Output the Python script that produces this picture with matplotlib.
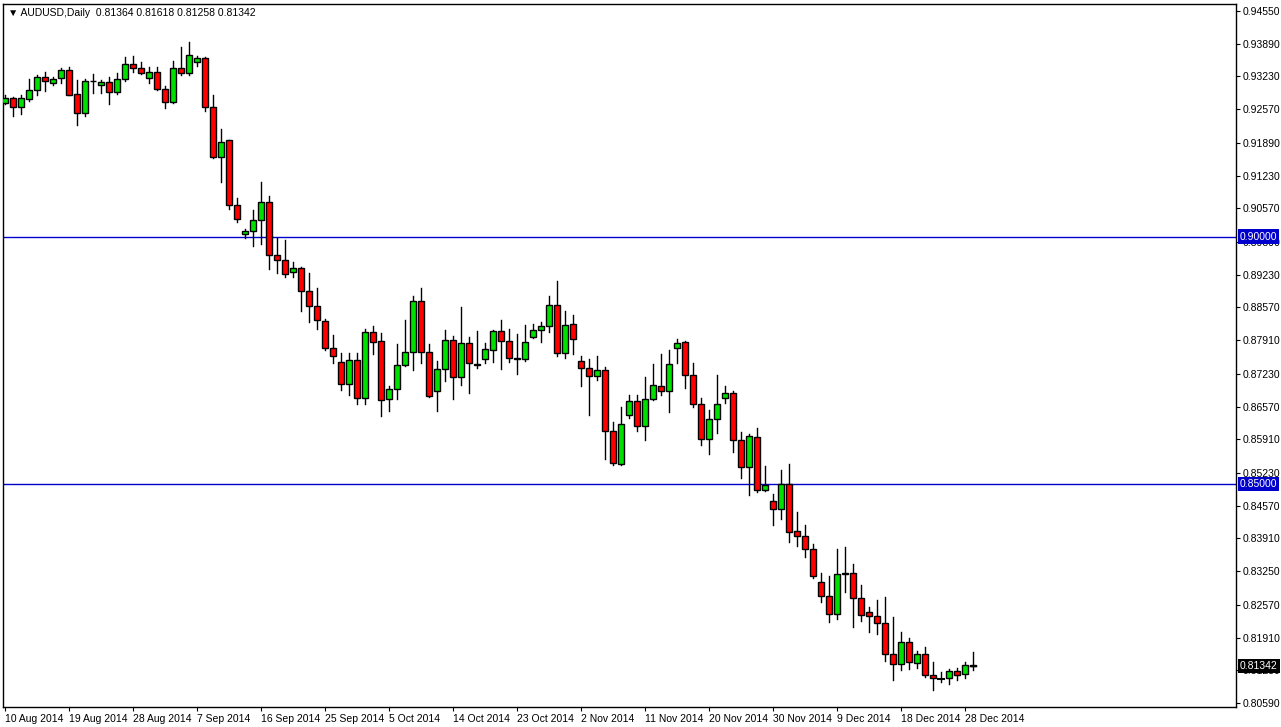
import matplotlib
matplotlib.use("Agg")
import matplotlib.pyplot as plt
from matplotlib.patches import Rectangle

plt.rcParams["font.family"] = ["Liberation Sans", "DejaVu Sans"]

# AUDUSD daily candles, 10 Aug 2014 - 29 Dec 2014
opens = [0.9270, 0.9280, 0.9261, 0.9278, 0.9296, 0.9322, 0.9310, 0.9320, 0.9336, 0.9288,
         0.9249, 0.9314, 0.9306, 0.9312, 0.9292, 0.9318, 0.9348, 0.9340, 0.9320, 0.9332,
         0.9298, 0.9271, 0.9340, 0.9330, 0.9352, 0.9360, 0.9261, 0.9161, 0.9195, 0.9064,
         0.9006, 0.9012, 0.9033, 0.9070, 0.8963, 0.8953, 0.8929, 0.8937, 0.8891, 0.8860,
         0.8830, 0.8775, 0.8747, 0.8703, 0.8751, 0.8674, 0.8808, 0.8789, 0.8672, 0.8692,
         0.8741, 0.8767, 0.8870, 0.8767, 0.8688, 0.8733, 0.8792, 0.8716, 0.8786, 0.8741,
         0.8753, 0.8771, 0.8810, 0.8790, 0.8753, 0.8753, 0.8798, 0.8812, 0.8820, 0.8862,
         0.8765, 0.8824, 0.8749, 0.8735, 0.8719, 0.8731, 0.8607, 0.8541, 0.8640, 0.8668,
         0.8618, 0.8672, 0.8699, 0.8688, 0.8775, 0.8788, 0.8721, 0.8662, 0.8591, 0.8632,
         0.8674, 0.8684, 0.8589, 0.8535, 0.8595, 0.8488, 0.8466, 0.8450, 0.8500, 0.8406,
         0.8396, 0.8370, 0.8303, 0.8275, 0.8239, 0.8321, 0.8321, 0.8271, 0.8243, 0.8235,
         0.8221, 0.8158, 0.8138, 0.8182, 0.8140, 0.8158, 0.8116, 0.8108, 0.8110, 0.8124,
         0.8118, 0.81364]
highs = [0.9286, 0.9282, 0.9286, 0.9318, 0.9326, 0.9332, 0.9322, 0.9340, 0.9342, 0.9316,
         0.9318, 0.9328, 0.9316, 0.9322, 0.9330, 0.9363, 0.9364, 0.9352, 0.9342, 0.9342,
         0.9304, 0.9354, 0.9383, 0.9393, 0.9364, 0.9362, 0.9286, 0.9217, 0.9195, 0.9078,
         0.9016, 0.9054, 0.9110, 0.9082, 0.8997, 0.8993, 0.8949, 0.8939, 0.8927, 0.8896,
         0.8834, 0.8802, 0.8765, 0.8765, 0.8765, 0.8814, 0.8820, 0.8805, 0.8698, 0.8783,
         0.8832, 0.8880, 0.8896, 0.8783, 0.8749, 0.8812, 0.8800, 0.8858, 0.8798, 0.8810,
         0.8786, 0.8812, 0.8832, 0.8814, 0.8804, 0.8822, 0.8824, 0.8828, 0.8880, 0.8910,
         0.8850, 0.8842, 0.8759, 0.8753, 0.8759, 0.8737, 0.8626, 0.8656, 0.8680, 0.8680,
         0.8717, 0.8743, 0.8763, 0.8771, 0.8793, 0.8790, 0.8745, 0.8674, 0.8650, 0.8721,
         0.8698, 0.8688, 0.8605, 0.8601, 0.8613, 0.8537, 0.8481, 0.8529, 0.8541, 0.8444,
         0.8418, 0.8380, 0.8321, 0.8315, 0.8370, 0.8374, 0.8340, 0.8297, 0.8253, 0.8267,
         0.8273, 0.8233, 0.8203, 0.8190, 0.8164, 0.8172, 0.8142, 0.8122, 0.8128, 0.8130,
         0.8142, 0.81618]
lows = [0.9267, 0.9243, 0.9247, 0.9273, 0.9286, 0.9294, 0.9306, 0.9310, 0.9286, 0.9225,
        0.9243, 0.9290, 0.9290, 0.9267, 0.9288, 0.9314, 0.9332, 0.9328, 0.9310, 0.9296,
        0.9259, 0.9269, 0.9326, 0.9326, 0.9344, 0.9253, 0.9159, 0.9110, 0.9056, 0.9029,
        0.8997, 0.8981, 0.8985, 0.8935, 0.8927, 0.8919, 0.8919, 0.8850, 0.8828, 0.8814,
        0.8771, 0.8745, 0.8690, 0.8680, 0.8662, 0.8662, 0.8763, 0.8638, 0.8648, 0.8672,
        0.8739, 0.8731, 0.8745, 0.8676, 0.8648, 0.8709, 0.8672, 0.8701, 0.8684, 0.8735,
        0.8745, 0.8747, 0.8733, 0.8747, 0.8723, 0.8749, 0.8796, 0.8788, 0.8808, 0.8759,
        0.8755, 0.8763, 0.8699, 0.8640, 0.8711, 0.8551, 0.8539, 0.8539, 0.8634, 0.8607,
        0.8589, 0.8670, 0.8680, 0.8646, 0.8745, 0.8694, 0.8656, 0.8580, 0.8562, 0.8603,
        0.8664, 0.8566, 0.8512, 0.8478, 0.8484, 0.8486, 0.8418, 0.8430, 0.8384, 0.8376,
        0.8353, 0.8311, 0.8263, 0.8223, 0.8229, 0.8283, 0.8213, 0.8225, 0.8203, 0.8199,
        0.8144, 0.8106, 0.8126, 0.8128, 0.8130, 0.8112, 0.8086, 0.8102, 0.8098, 0.8106,
        0.8110, 0.81258]
closes = [0.9280, 0.9261, 0.9280, 0.9296, 0.9322, 0.9314, 0.9318, 0.9336, 0.9286, 0.9249,
          0.9314, 0.9313, 0.9312, 0.9292, 0.9318, 0.9348, 0.9340, 0.9330, 0.9332, 0.9298,
          0.9271, 0.9340, 0.9330, 0.9366, 0.9360, 0.9261, 0.9161, 0.9191, 0.9064, 0.9035,
          0.9012, 0.9033, 0.9070, 0.8963, 0.8953, 0.8925, 0.8937, 0.8891, 0.8860, 0.8832,
          0.8775, 0.8759, 0.8703, 0.8751, 0.8674, 0.8808, 0.8788, 0.8670, 0.8692, 0.8741,
          0.8767, 0.8870, 0.8767, 0.8678, 0.8733, 0.8792, 0.8716, 0.8786, 0.8745, 0.8743,
          0.8773, 0.8810, 0.8790, 0.8755, 0.8755, 0.8788, 0.8812, 0.8820, 0.8862, 0.8765,
          0.8822, 0.8794, 0.8735, 0.8719, 0.8731, 0.8607, 0.8543, 0.8622, 0.8668, 0.8618,
          0.8672, 0.8701, 0.8688, 0.8743, 0.8786, 0.8721, 0.8662, 0.8591, 0.8632, 0.8662,
          0.8684, 0.8589, 0.8535, 0.8597, 0.8488, 0.8498, 0.8450, 0.8500, 0.8404, 0.8396,
          0.8370, 0.8315, 0.8275, 0.8239, 0.8319, 0.8320, 0.8271, 0.8237, 0.8235, 0.8221,
          0.8158, 0.8138, 0.8182, 0.8142, 0.8158, 0.8116, 0.8110, 0.8108, 0.8124, 0.8116,
          0.8136, 0.81342]

date_labels = ["10 Aug 2014", "19 Aug 2014", "28 Aug 2014", "7 Sep 2014", "16 Sep 2014",
               "25 Sep 2014", "5 Oct 2014", "14 Oct 2014", "23 Oct 2014", "2 Nov 2014",
               "11 Nov 2014", "20 Nov 2014", "30 Nov 2014", "9 Dec 2014", "18 Dec 2014",
               "28 Dec 2014"]
price_ticks = [0.94550, 0.93890, 0.93230, 0.92570, 0.91890, 0.91230, 0.90570, 0.89890,
               0.89230, 0.88570, 0.87910, 0.87230, 0.86570, 0.85910, 0.85230, 0.84570,
               0.83910, 0.83250, 0.82570, 0.81910, 0.81250, 0.80590]
levels = [0.90, 0.85]
last_price = 0.81342

fig = plt.figure(figsize=(12.81, 7.27), dpi=100)
ax = fig.add_axes([3 / 1281, 20 / 727, 1233 / 1281, 703 / 727])

for i in range(len(opens)):
    o, h, l, c = opens[i], highs[i], lows[i], closes[i]
    ax.plot([i, i], [l, h], color="black", lw=1, zorder=2)
    lo, hi = min(o, c), max(o, c)
    if hi - lo < 0.00008:
        ax.plot([i - 0.35, i + 0.35], [o, o], color="black", lw=1.5, zorder=3)
        continue
    col = "#00e000" if c > o else "#ff0000"
    ax.add_patch(Rectangle((i - 0.35, lo), 0.7, hi - lo, facecolor=col,
                           edgecolor="black", lw=1, zorder=3))

for lv in levels:
    ax.axhline(lv, color="#0000cc", lw=1, zorder=1)

ax.set_xlim(-0.25, 153.9)
ax.set_ylim(0.8051, 0.9469)

ax.yaxis.tick_right()
ax.set_yticks(price_ticks)
ax.set_yticklabels([f"{p:.5f}" for p in price_ticks], fontsize=7.5)
ax.tick_params(axis="y", length=3, pad=2)
ax.set_xticks([8 * k for k in range(len(date_labels))])
ax.set_xticklabels(date_labels, fontsize=7.5, ha="left")
ax.tick_params(axis="x", length=3, pad=2)
for sp in ax.spines.values():
    sp.set_linewidth(1)

# price boxes on the right axis
for lv in levels:
    ax.text(1.003, lv, f"{lv:.5f}", transform=ax.get_yaxis_transform(), va="center",
            ha="left", fontsize=7.5, color="white",
            bbox=dict(facecolor="#0000cc", edgecolor="none", pad=1.5), zorder=5)
ax.text(1.003, last_price, f"{last_price:.5f}", transform=ax.get_yaxis_transform(),
        va="center", ha="left", fontsize=7.5, color="white",
        bbox=dict(facecolor="black", edgecolor="none", pad=1.5), zorder=5)
ax.plot([len(opens) - 1.4, len(opens) - 0.6], [last_price, last_price], color="black", lw=1)

ax.text(0.004, 0.994, "\u25bc AUDUSD,Daily  0.81364 0.81618 0.81258 0.81342",
        transform=ax.transAxes, va="top", ha="left", fontsize=7.5)

fig.savefig("out.png", dpi=100)
